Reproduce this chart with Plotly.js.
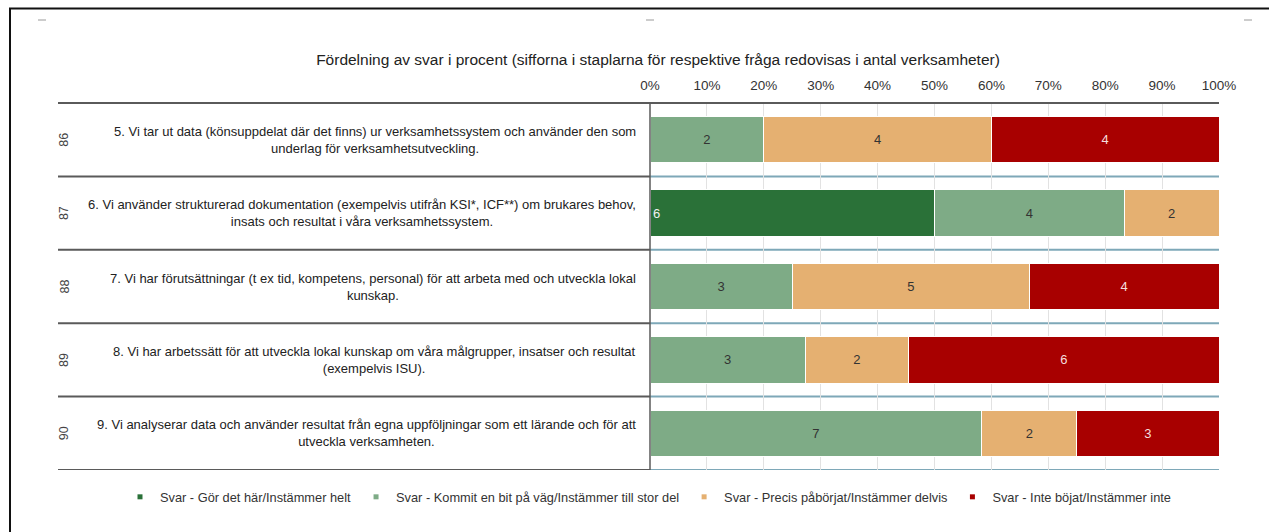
<!DOCTYPE html>
<html>
<head>
<meta charset="utf-8">
<script src="https://cdn.plot.ly/plotly-3.0.1.min.js"></script>
<style>
html,body{margin:0;padding:0;background:#fff;}
#chart{width:1269px;height:532px;}
</style>
</head>
<body>
<div id="chart"></div>
<script>
// ---- data ----
const rowIds = ['86', '87', '88', '89', '90'];
const questions = [
  '5. Vi tar ut data (könsuppdelat där det finns) ur verksamhetssystem och använder den som<br>underlag för verksamhetsutveckling.',
  '6. Vi använder strukturerad dokumentation (exempelvis utifrån KSI*, ICF**) om brukares behov,<br>insats och resultat i våra verksamhetssystem.',
  '7. Vi har förutsättningar (t ex tid, kompetens, personal) för att arbeta med och utveckla lokal<br>kunskap.',
  '8. Vi har arbetssätt för att utveckla lokal kunskap om våra målgrupper, insatser och resultat<br>(exempelvis ISU).',
  '9. Vi analyserar data och använder resultat från egna uppföljningar som ett lärande och för att<br>utveckla verksamheten.'
];
const seriesNames = [
  'Svar - Gör det här/Instämmer helt',
  'Svar - Kommit en bit på väg/Instämmer till stor del',
  'Svar - Precis påbörjat/Instämmer delvis',
  'Svar - Inte böjat/Instämmer inte'
];
const gorDet   = [0, 6, 0, 0, 0];
const kommit   = [2, 4, 3, 3, 7];
const precis   = [4, 2, 5, 2, 2];
const inte     = [4, 0, 4, 6, 3];
const xTickVals = [0, 10, 20, 30, 40, 50, 60, 70, 80, 90, 100];
const xTickText = ['0%', '10%', '20%', '30%', '40%', '50%', '60%', '70%', '80%', '90%', '100%'];

// ---- styling ----
const FONT = 'Liberation Sans, Arial, sans-serif';
const colors = ['#2a7138', '#7eab86', '#e5b071', '#a80000'];
const textColors = ['#f2f2f2', '#333333', '#333333', '#f5dede'];
const anchors = ['start', 'middle', 'middle', 'middle'];
const seriesCounts = [gorDet, kommit, precis, inte];
const totals = rowIds.map((_, i) => seriesCounts.reduce((s, arr) => s + arr[i], 0));

const traces = [];
seriesCounts.forEach((counts, k) => {
  traces.push({
    type: 'bar',
    orientation: 'h',
    y: rowIds,
    x: counts.map((c, i) => c / totals[i] * 100),
    text: counts.map(c => c === 0 ? '' : String(c)),
    textposition: 'inside',
    insidetextanchor: anchors[k],
    textangle: 0,
    constraintext: 'none',
    textfont: {family: FONT, size: 13, color: textColors[k]},
    marker: {color: colors[k], line: {color: '#ffffff', width: 1}},
    name: seriesNames[k],
    showlegend: false,
    hoverinfo: 'skip'
  });
});
// legend-only entries with small square markers
seriesNames.forEach((n, k) => {
  traces.push({
    type: 'scatter', mode: 'markers', x: [null], y: [null],
    marker: {symbol: 'square', size: 5, color: colors[k]},
    name: n, showlegend: true, hoverinfo: 'skip'
  });
});

// pixel -> paper helpers (plot area: x 650..1219, y 103..470)
const L = 650, R = 50, T = 103, B = 62, W = 1269, H = 532;
const pw = W - L - R, ph = H - T - B;
const px = v => (v - L) / pw;
const py = v => (T + ph - v) / ph;

const shapes = [];
const darkLine = '#5a5a5a', blueLine = '#7ea8b8';
shapes.push({type: 'line', xref: 'paper', yref: 'paper', x0: px(58), x1: 1, y0: 1, y1: 1, line: {color: darkLine, width: 2}});
for (let i = 0; i < rowIds.length; i++) {
  const yb = i + 0.5;
  shapes.push({type: 'line', xref: 'paper', yref: 'y', x0: px(58), x1: 0, y0: yb, y1: yb, line: {color: darkLine, width: 2}});
  shapes.push({type: 'line', xref: 'paper', yref: 'y', x0: 0, x1: 1, y0: yb, y1: yb, line: {color: blueLine, width: 2}, layer: 'below'});
}
shapes.push({type: 'line', xref: 'paper', yref: 'paper', x0: 0, x1: 0, y0: 0, y1: 1, line: {color: darkLine, width: 1.5}});
// outer frame (top + left)
shapes.push({type: 'line', xref: 'paper', yref: 'paper', x0: px(9), x1: px(1275), y0: py(8.5), y1: py(8.5), line: {color: '#111', width: 2}});
shapes.push({type: 'line', xref: 'paper', yref: 'paper', x0: px(10), x1: px(10), y0: py(8.5), y1: py(540), line: {color: '#111', width: 2}});
// small selection handles
[[38, 46], [646, 654], [1244, 1252]].forEach(([a, b]) => {
  shapes.push({type: 'line', xref: 'paper', yref: 'paper', x0: px(a), x1: px(b), y0: py(20), y1: py(20), line: {color: '#9a9a9a', width: 1}});
});

const annotations = [];
rowIds.forEach((id, i) => {
  annotations.push({
    xref: 'paper', yref: 'y', x: px(638), y: i, xanchor: 'right', yanchor: 'middle',
    align: 'center', text: questions[i], showarrow: false,
    font: {family: FONT, size: 13, color: '#222'}
  });
  annotations.push({
    xref: 'paper', yref: 'y', x: px(64), y: i, xanchor: 'center', yanchor: 'middle',
    text: id, textangle: -90, showarrow: false,
    font: {family: FONT, size: 12.5, color: '#444'}
  });
});

const layout = {
  width: W, height: H,
  margin: {l: L, r: R, t: T, b: B, pad: 0},
  paper_bgcolor: '#ffffff', plot_bgcolor: '#ffffff',
  barmode: 'stack', bargap: 0.37,
  title: {
    text: 'Fördelning av svar i procent (sifforna i staplarna för respektive fråga redovisas i antal verksamheter)',
    x: 658 / W, xanchor: 'center', y: 1 - 60 / H, yanchor: 'middle',
    font: {family: FONT, size: 15.5, color: '#222'}
  },
  xaxis: {
    side: 'top', range: [0, 100], tickvals: xTickVals, ticktext: xTickText, tickmode: 'array',
    showgrid: true, gridcolor: '#e2e2e2', gridwidth: 1, zeroline: false,
    showline: false, ticks: 'outside', ticklen: 7, tickcolor: 'rgba(0,0,0,0)',
    tickfont: {family: FONT, size: 13.5, color: '#333'},
    fixedrange: true
  },
  yaxis: {
    type: 'category', categoryorder: 'array', categoryarray: rowIds,
    range: [rowIds.length - 0.5, -0.5], autorange: false, showticklabels: false,
    showgrid: false, zeroline: false, showline: false, ticks: '', fixedrange: true
  },
  showlegend: true,
  legend: {
    orientation: 'h', xref: 'paper', yref: 'paper',
    x: px(120), xanchor: 'left', y: py(497), yanchor: 'middle',
    traceorder: 'normal',
    font: {family: FONT, size: 12.8, color: '#333'},
    itemwidth: 30, bgcolor: 'rgba(0,0,0,0)'
  },
  shapes: shapes,
  annotations: annotations
};

Plotly.newPlot('chart', traces, layout, {staticPlot: true, displayModeBar: false});
</script>
</body>
</html>
